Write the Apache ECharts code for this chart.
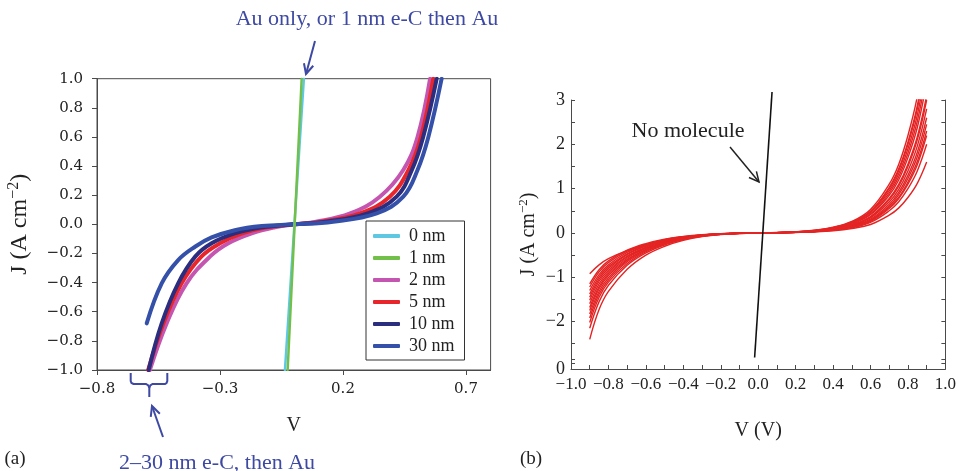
<!DOCTYPE html>
<html>
<head>
<meta charset="utf-8">
<script src="https://cdn.jsdelivr.net/npm/echarts/dist/echarts.min.js"></script>
<style>
  html, body { margin: 0; padding: 0; background: #fff; }
  #chart { width: 959px; height: 471px; }
</style>
</head>
<body>
<div id="chart"></div>
<script>
// ---------- Panel (a): J–V curves for different e-C thicknesses ----------
const seriesNames = ['0 nm', '1 nm', '2 nm', '5 nm', '10 nm', '30 nm'];

const v0nm = [-0.036, 0.041];
const j0nm = [-1.0, 1.0];
const v1nm = [-0.025, 0.032];
const j1nm = [-1.0, 1.0];

const v2nm = [-0.585, -0.517, -0.436, -0.34, -0.266, -0.171, -0.076, 0, 0.09, 0.229, 0.35, 0.445, 0.503, 0.554];
const j2nm = [-1.0, -0.68, -0.405, -0.22, -0.13, -0.062, -0.02, 0, 0.018, 0.075, 0.19, 0.373, 0.60, 1.0];

const v5nm = [-0.592, -0.53, -0.456, -0.375, -0.30, -0.21, -0.11, 0, 0.11, 0.269, 0.39, 0.466, 0.517, 0.567];
const j5nm = [-1.0, -0.68, -0.405, -0.22, -0.13, -0.062, -0.02, 0, 0.018, 0.075, 0.19, 0.373, 0.60, 1.0];

const v10nm = [-0.59, -0.537, -0.47, -0.40, -0.334, -0.24, -0.13, 0, 0.13, 0.30, 0.418, 0.48, 0.526, 0.581];
const j10nm = [-1.0, -0.68, -0.405, -0.22, -0.13, -0.062, -0.02, 0, 0.018, 0.075, 0.19, 0.373, 0.60, 1.0];

const v30nm = [-0.598, -0.537, -0.47, -0.40, -0.334, -0.24, -0.13, 0, 0.16, 0.337, 0.445, 0.503, 0.547, 0.601];
const j30nm = [-0.68, -0.405, -0.245, -0.152, -0.09, -0.04, -0.012, 0, 0.018, 0.075, 0.19, 0.373, 0.60, 1.0];

const leftXTicks = [-0.8, -0.3, 0.2, 0.7];

// ---------- Panel (b): repeated J–V sweeps of the molecular junctions ----------
const redV = [-0.9, -0.85, -0.8, -0.7, -0.6, -0.5, -0.4, -0.3, -0.2, -0.1, 0,
              0.1, 0.2, 0.3, 0.4, 0.5, 0.6, 0.7, 0.75, 0.8, 0.85, 0.9];
const redCurves = [
  [-0.92, -0.72, -0.58, -0.40, -0.28, -0.17, -0.10, -0.055, -0.028, -0.009, 0, 0.005, 0.016, 0.036, 0.078, 0.16, 0.31, 0.65, 0.91, 1.3, 1.82, 2.6],
  [-1.15, -0.83, -0.63, -0.39, -0.24, -0.14, -0.08, -0.04, -0.017, -0.006, 0, 0.003, 0.01, 0.022, 0.048, 0.1, 0.19, 0.4, 0.56, 0.8, 1.12, 1.6],
  [-1.22, -0.88, -0.67, -0.41, -0.26, -0.15, -0.085, -0.043, -0.018, -0.006, 0, 0.007, 0.02, 0.048, 0.1, 0.2, 0.41, 0.85, 1.19, 1.7, 2.38, 3.4],
  [-1.30, -0.94, -0.72, -0.44, -0.27, -0.16, -0.09, -0.046, -0.02, -0.007, 0, 0.004, 0.012, 0.028, 0.06, 0.12, 0.24, 0.5, 0.7, 1.0, 1.4, 2.0],
  [-1.38, -0.99, -0.76, -0.47, -0.29, -0.17, -0.097, -0.048, -0.021, -0.007, 0, 0.009, 0.026, 0.062, 0.13, 0.26, 0.53, 1.1, 1.54, 2.2, 3.08, 4.4],
  [-1.45, -1.04, -0.80, -0.49, -0.30, -0.18, -0.10, -0.051, -0.022, -0.007, 0, 0.005, 0.014, 0.032, 0.069, 0.14, 0.28, 0.58, 0.8, 1.15, 1.61, 2.3],
  [-1.52, -1.09, -0.84, -0.52, -0.32, -0.19, -0.106, -0.053, -0.023, -0.008, 0, 0.008, 0.023, 0.053, 0.11, 0.23, 0.46, 0.95, 1.33, 1.9, 2.66, 3.8],
  [-1.60, -1.15, -0.88, -0.54, -0.34, -0.20, -0.112, -0.056, -0.024, -0.008, 0, 0.006, 0.017, 0.039, 0.084, 0.17, 0.34, 0.7, 0.98, 1.4, 1.96, 2.8],
  [-1.68, -1.21, -0.92, -0.57, -0.35, -0.21, -0.118, -0.059, -0.025, -0.008, 0, 0.008, 0.025, 0.057, 0.12, 0.25, 0.49, 1.03, 1.44, 2.05, 2.87, 4.1],
  [-1.75, -1.26, -0.96, -0.60, -0.37, -0.22, -0.122, -0.061, -0.026, -0.009, 0, 0.005, 0.015, 0.034, 0.074, 0.15, 0.29, 0.61, 0.86, 1.23, 1.72, 2.45],
  [-1.83, -1.32, -1.01, -0.62, -0.38, -0.23, -0.128, -0.064, -0.027, -0.009, 0, 0.006, 0.019, 0.043, 0.093, 0.19, 0.37, 0.78, 1.09, 1.55, 2.17, 3.1],
  [-1.92, -1.38, -1.06, -0.65, -0.40, -0.24, -0.134, -0.067, -0.029, -0.01, 0, 0.007, 0.022, 0.05, 0.11, 0.22, 0.43, 0.9, 1.26, 1.8, 2.52, 3.6],
  [-2.02, -1.45, -1.11, -0.69, -0.42, -0.25, -0.141, -0.071, -0.03, -0.01, 0, 0.004, 0.013, 0.031, 0.066, 0.13, 0.26, 0.55, 0.77, 1.1, 1.54, 2.2],
  [-2.15, -1.55, -1.18, -0.73, -0.45, -0.27, -0.15, -0.075, -0.032, -0.011, 0, 0.008, 0.024, 0.056, 0.12, 0.24, 0.48, 1.0, 1.4, 2.0, 2.8, 4.0],
  [-2.40, -1.73, -1.32, -0.82, -0.50, -0.30, -0.168, -0.084, -0.036, -0.012, 0, 0.006, 0.018, 0.042, 0.09, 0.18, 0.36, 0.75, 1.05, 1.5, 2.1, 3.0]
];
const noMoleculeV = [-0.019, 0.074];
const noMoleculeJ = [-2.81, 3.18];

const rightXLabels = [-1.0, -0.8, -0.6, -0.4, -0.2, 0.0, 0.2, 0.4, 0.6, 0.8, 1.0];
const rightYLabels = [-3.07, -2, -1, 0, 1, 2, 3];
const rightYTicks = [-2.93, -2.85, -2.5, -2, -1.5, -1, -0.5, 0, 0.5, 1, 1.5, 2, 2.5, 3];

// ---------- helpers ----------
const SERIF = '"Liberation Serif", "Times New Roman", serif';
const WIDE_SERIF = '"DejaVu Serif", serif';
const AXIS = '#4a4a4a';
const NOTE = '#3d49a3';
const minus = s => String(s).replace('-', '\u2212');
const pairs = (xs, ys) => xs.map((x, i) => [x, ys[i]]);

function arrow(x1, y1, x2, y2, color, w, head) {
  const a = Math.atan2(y2 - y1, x2 - x1);
  const s = 26 * Math.PI / 180;
  return {
    type: 'group',
    children: [
      { type: 'line', shape: { x1, y1, x2, y2 }, style: { stroke: color, lineWidth: w } },
      { type: 'polyline',
        shape: { points: [
          [x2 - head * Math.cos(a - s), y2 - head * Math.sin(a - s)],
          [x2, y2],
          [x2 - head * Math.cos(a + s), y2 - head * Math.sin(a + s)]
        ] },
        style: { stroke: color, lineWidth: w, fill: null } }
    ]
  };
}

const jName = '{t|J (A cm}{s|\u22122}{t|)}';
const jRich = (size) => ({
  t: { fontFamily: SERIF, fontSize: size, color: '#222', lineHeight: size + 4 },
  s: { fontFamily: SERIF, fontSize: Math.round(size * 0.65), color: '#222', lineHeight: Math.round(size * 0.65), verticalAlign: 'top' }
});

const leftColors = ['#5ec8e3', '#72c04a', '#c455b0', '#e8252a', '#2b2d7e', '#3550a8'];

const leftSeries = [
  { name: '2 nm', v: v2nm, j: j2nm, c: leftColors[2], w: 4, z: 3 },
  { name: '5 nm', v: v5nm, j: j5nm, c: leftColors[3], w: 4, z: 4 },
  { name: '10 nm', v: v10nm, j: j10nm, c: leftColors[4], w: 4, z: 5 },
  { name: '30 nm', v: v30nm, j: j30nm, c: leftColors[5], w: 4, z: 6 },
  { name: '0 nm', v: v0nm, j: j0nm, c: leftColors[0], w: 2.5, z: 7 },
  { name: '1 nm', v: v1nm, j: j1nm, c: leftColors[1], w: 2.5, z: 8 }
].map(s => ({
  name: s.name,
  type: 'line',
  xAxisIndex: 0,
  yAxisIndex: 0,
  data: pairs(s.v, s.j),
  showSymbol: false,
  smooth: 0.4,
  z: s.z,
  lineStyle: { color: s.c, width: s.w, cap: 'round' },
  itemStyle: { color: s.c },
  emphasis: { disabled: true }
}));

const redSeries = redCurves.map(js => ({
  type: 'line',
  xAxisIndex: 1,
  yAxisIndex: 1,
  data: pairs(redV, js),
  showSymbol: false,
  smooth: 0.4,
  lineStyle: { color: '#e42424', width: 1.4 },
  emphasis: { disabled: true },
  z: 3
}));

const blackSeries = {
  type: 'line',
  xAxisIndex: 1,
  yAxisIndex: 1,
  data: pairs(noMoleculeV, noMoleculeJ),
  showSymbol: false,
  clip: false,
  lineStyle: { color: '#111', width: 1.6 },
  emphasis: { disabled: true },
  z: 4
};

// curly brace under the left end of the curves
const braceLeft = [[130.7, 373], [130.7, 381], [131.5, 383], [133.5, 384], [146, 384], [148.3, 385.5], [149.3, 388], [149.3, 397]];
const braceRight = [[149.3, 388], [150.3, 385.5], [152.5, 384], [165, 384], [166.5, 383], [167.3, 381], [167.3, 373]];

const chart = echarts.init(document.getElementById('chart'), null, { renderer: 'canvas' });

chart.setOption({
  animation: false,
  backgroundColor: '#fff',
  grid: [
    { left: 97, top: 78.7, width: 393.6, height: 291.3, show: true, borderColor: AXIS, borderWidth: 1, backgroundColor: 'transparent' },
    { left: 571, top: 100, width: 376, height: 269, show: false }
  ],
  legend: {
    data: seriesNames,
    orient: 'vertical',
    left: 366,
    top: 221,
    width: 101,
    padding: [6, 10, 5, 7],
    itemGap: 4,
    itemWidth: 27,
    itemHeight: 4,
    icon: 'roundRect',
    borderColor: '#333',
    borderWidth: 1,
    backgroundColor: '#fff',
    selectedMode: false,
    textStyle: { fontFamily: SERIF, fontSize: 18, color: '#222', lineHeight: 18, padding: [0, 0, 0, 4] }
  },
  xAxis: [
    {
      type: 'value', gridIndex: 0, min: -0.8, max: 0.8,
      name: 'V', nameLocation: 'middle', nameGap: 46,
      nameTextStyle: { fontFamily: SERIF, fontSize: 20, color: '#222' },
      axisLine: { show: true, onZero: false, lineStyle: { color: AXIS, width: 1 } },
      axisTick: { show: true, length: 5, customValues: leftXTicks, lineStyle: { color: AXIS } },
      axisLabel: { customValues: leftXTicks, margin: 12, fontFamily: WIDE_SERIF, fontSize: 15, color: '#222', formatter: v => minus(v.toFixed(1)) },
      splitLine: { show: false }
    },
    {
      type: 'value', gridIndex: 1, min: -1, max: 1, interval: 0.1,
      name: 'V (V)', nameLocation: 'middle', nameGap: 52,
      nameTextStyle: { fontFamily: SERIF, fontSize: 20, color: '#222' },
      axisLine: { show: true, onZero: false, lineStyle: { color: AXIS, width: 1 } },
      axisTick: { show: true, inside: true, length: 4, lineStyle: { color: AXIS } },
      axisLabel: { customValues: rightXLabels, margin: 7, fontFamily: SERIF, fontSize: 17, color: '#222', formatter: v => minus(v.toFixed(1)) },
      splitLine: { show: false }
    }
  ],
  yAxis: [
    {
      type: 'value', gridIndex: 0, min: -1, max: 1, interval: 0.2,
      name: jName, nameLocation: 'middle', nameGap: 63, nameRotate: 90,
      nameTextStyle: { rich: jRich(24) },
      axisLine: { show: true, onZero: false, lineStyle: { color: AXIS, width: 1 } },
      axisTick: { show: true, length: 5, lineStyle: { color: AXIS } },
      axisLabel: { margin: 14, fontFamily: WIDE_SERIF, fontSize: 15, color: '#222', formatter: v => minus(v.toFixed(1)) },
      splitLine: { show: false }
    },
    {
      type: 'value', gridIndex: 1, min: -3.07, max: 3,
      name: jName, nameLocation: 'middle', nameGap: 30, nameRotate: 90,
      nameTextStyle: { rich: jRich(20) },
      axisLine: { show: true, onZero: false, lineStyle: { color: AXIS, width: 1 } },
      axisTick: { show: true, inside: true, length: 4, customValues: rightYTicks, lineStyle: { color: AXIS } },
      axisLabel: { customValues: rightYLabels, margin: 6, fontFamily: SERIF, fontSize: 18, color: '#222',
        formatter: v => (v < -2.5 ? '0' : minus(v)) },
      splitLine: { show: false }
    },
    {
      type: 'value', gridIndex: 1, min: -3.07, max: 3, position: 'right',
      axisLine: { show: true, onZero: false, lineStyle: { color: AXIS, width: 1 } },
      axisTick: { show: true, inside: true, length: 4, customValues: rightYTicks, lineStyle: { color: AXIS } },
      axisLabel: { show: false },
      splitLine: { show: false }
    }
  ],
  series: [...leftSeries, ...redSeries, blackSeries],
  graphic: [
    { type: 'text', x: 367, y: 19, style: { text: 'Au only, or 1 nm e-C then Au', fontFamily: SERIF, fontSize: 22, fill: NOTE, align: 'center', verticalAlign: 'middle' } },
    arrow(315, 41, 306, 74, NOTE, 2, 11),
    { type: 'polyline', shape: { points: braceLeft }, style: { stroke: NOTE, lineWidth: 2, fill: null } },
    { type: 'polyline', shape: { points: braceRight }, style: { stroke: NOTE, lineWidth: 2, fill: null } },
    arrow(163, 437, 152, 406, NOTE, 2, 11),
    { type: 'text', x: 217, y: 463, style: { text: '2\u201330 nm e-C, then Au', fontFamily: SERIF, fontSize: 22, fill: NOTE, align: 'center', verticalAlign: 'middle' } },
    { type: 'text', x: 15, y: 459, style: { text: '(a)', fontFamily: SERIF, fontSize: 19, fill: '#222', align: 'center', verticalAlign: 'middle' } },
    { type: 'text', x: 531, y: 459, style: { text: '(b)', fontFamily: SERIF, fontSize: 19, fill: '#222', align: 'center', verticalAlign: 'middle' } },
    { type: 'text', x: 688, y: 131, style: { text: 'No molecule', fontFamily: SERIF, fontSize: 22, fill: '#222', align: 'center', verticalAlign: 'middle' } },
    arrow(730, 147, 759, 182, '#222', 1.5, 11)
  ]
});
</script>
</body>
</html>
